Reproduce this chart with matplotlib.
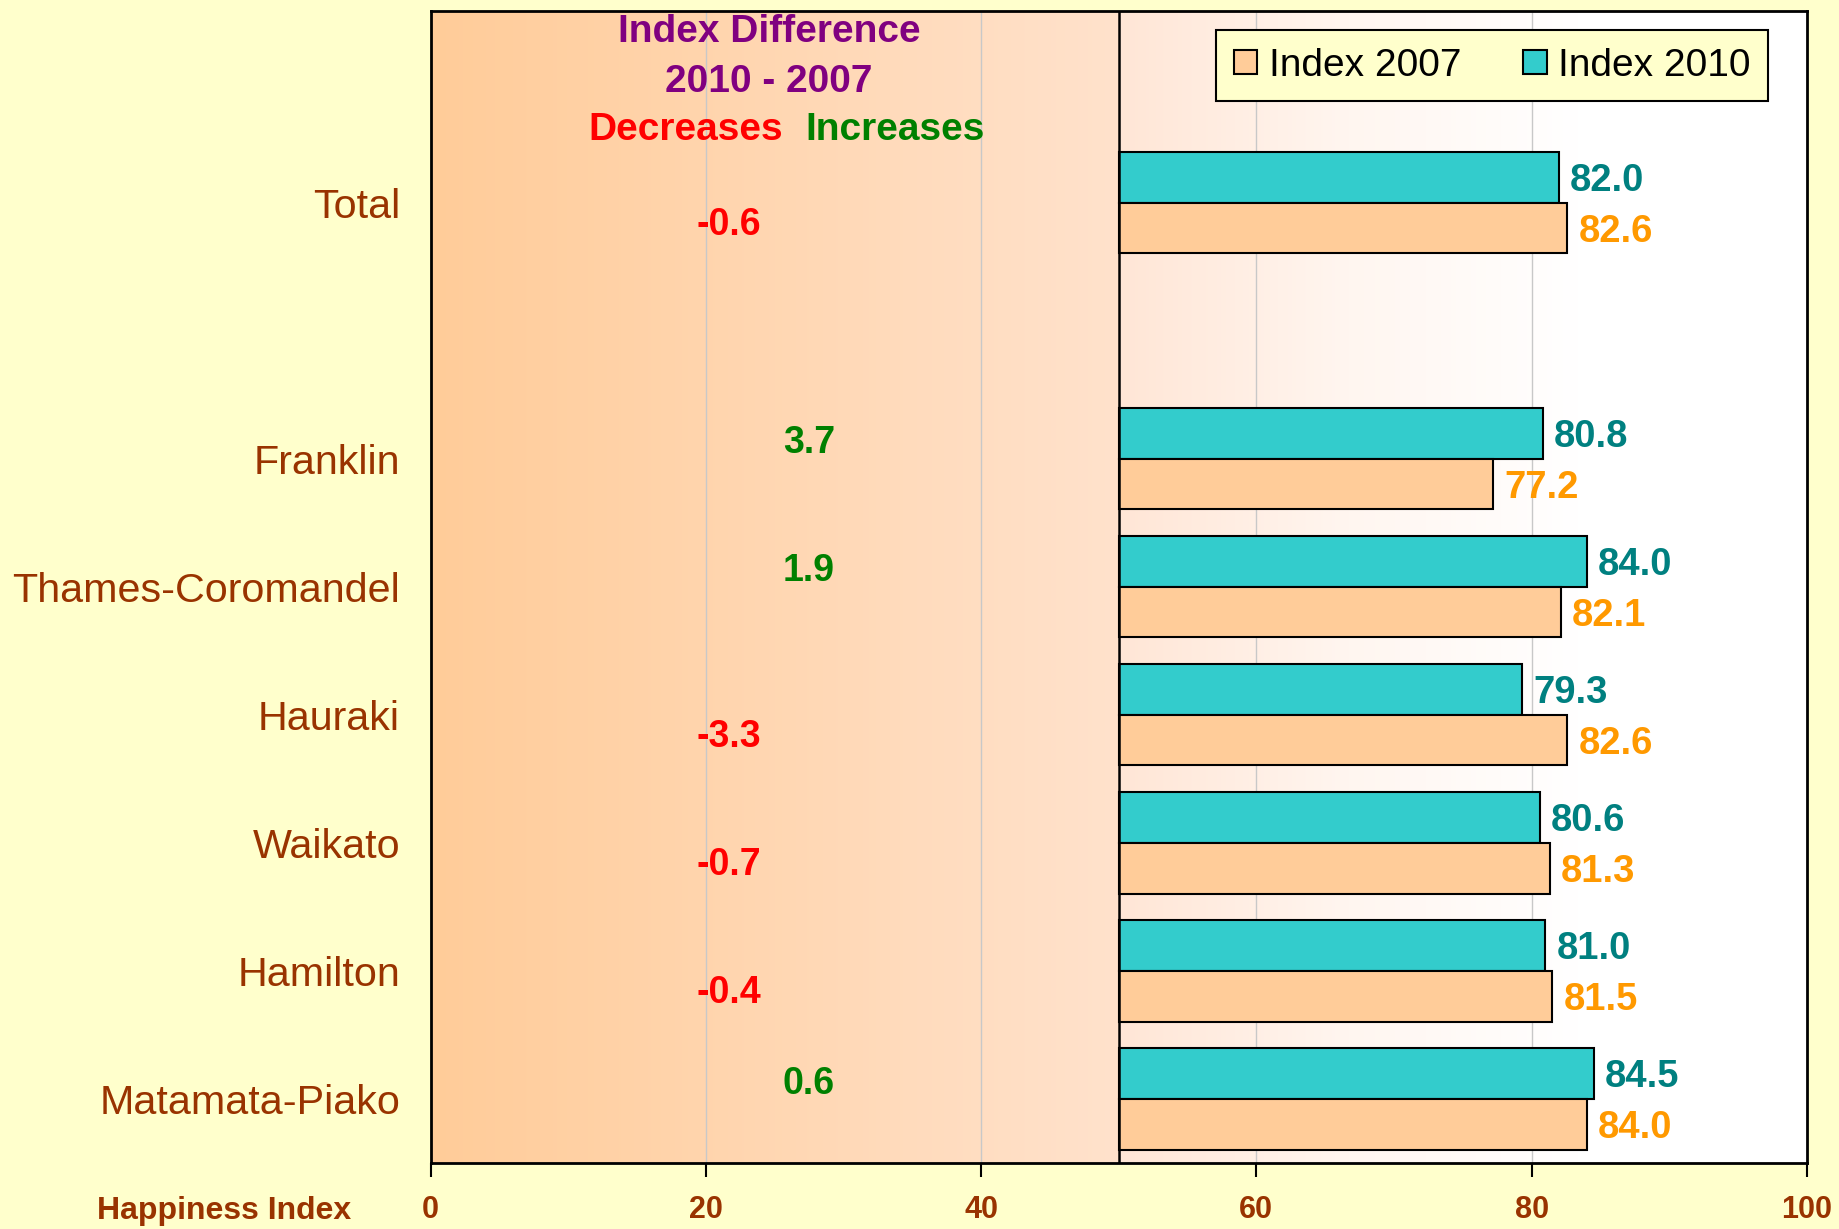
import numpy as np
import matplotlib
matplotlib.use("Agg")
import matplotlib.pyplot as plt
from matplotlib.patches import Patch
from matplotlib.colors import LinearSegmentedColormap

categories = ['Total', 'Franklin', 'Thames-Coromandel', 'Hauraki', 'Waikato', 'Hamilton', 'Matamata-Piako']
idx2007 = [82.6, 77.2, 82.1, 82.6, 81.3, 81.5, 84.0]
idx2010 = [82.0, 80.8, 84.0, 79.3, 80.6, 81.0, 84.5]
diff = [-0.6, 3.7, 1.9, -3.3, -0.7, -0.4, 0.6]
xticks = [0, 20, 40, 60, 80, 100]

ypos = [7, 5, 4, 3, 2, 1, 0]

NARROW = ['Liberation Sans', 'DejaVu Sans']
REG = ['Liberation Sans', 'DejaVu Sans']
BROWN = '#993300'
BG = '#FFFFCC'

fig = plt.figure(figsize=(18.4, 12.29), dpi=100, facecolor=BG)
ax = fig.add_axes([0.234, 0.0537, 0.748, 0.9377])
ax.set_facecolor('white')

# backgrounds
cm_left = LinearSegmentedColormap.from_list('l', ['#FFCC99', '#FFE2CC'])
cm_right = LinearSegmentedColormap.from_list('r', ['#FFE6D6', '#FFF6F0', '#FFFFFF', '#FFFFFF'])
grad = np.linspace(0, 1, 256).reshape(1, -1)
ax.imshow(grad, cmap=cm_left, aspect='auto', extent=(0, 50, -0.5, 8.5), zorder=0)
ax.imshow(grad, cmap=cm_right, aspect='auto', extent=(50, 100, -0.5, 8.5), zorder=0)

for g in [20, 40, 60, 80]:
    ax.axvline(g, color='#C8C8C8', lw=1.0, zorder=1)
ax.axvline(50, color='black', lw=1.8, zorder=3)

h = 0.395
off = 0.198
y = np.array(ypos, dtype=float)
ax.barh(y + off, [v - 50 for v in idx2010], left=50, height=h, color='#33CCCC',
        edgecolor='black', lw=1.5, zorder=2)
ax.barh(y - off, [v - 50 for v in idx2007], left=50, height=h, color='#FFCC99',
        edgecolor='black', lw=1.5, zorder=2)

for yy, v in zip(y, idx2010):
    ax.text(v + 0.8, yy + off - 0.028, f'{v:.1f}', color='#008080', fontsize=27.5, fontweight='bold',
            family=NARROW, va='center', ha='left', zorder=4)
for yy, v in zip(y, idx2007):
    ax.text(v + 0.8, yy - off - 0.028, f'{v:.1f}', color='#FF9900', fontsize=27.5, fontweight='bold',
            family=NARROW, va='center', ha='left', zorder=4)

for yy, d in zip(y, diff):
    if d < 0:
        ax.text(21.7, yy - 0.175, f'{d:.1f}', color='#FF0000', fontsize=27, fontweight='bold',
                family=NARROW, va='center', ha='center', zorder=4)
    else:
        ax.text(27.5, yy + 0.12, f'{d:.1f}', color='#008000', fontsize=27, fontweight='bold',
                family=NARROW, va='center', ha='center', zorder=4)

ax.text(24.6, 8.33, 'Index Difference', color='#800080', fontsize=28, fontweight='bold',
        family=NARROW, ha='center', va='center', zorder=4)
ax.text(24.6, 7.945, '2010 - 2007', color='#800080', fontsize=28, fontweight='bold',
        family=NARROW, ha='center', va='center', zorder=4)
ax.text(25.6, 7.57, 'Decreases', color='#FF0000', fontsize=28, fontweight='bold',
        family=NARROW, ha='right', va='center', zorder=4)
ax.text(27.2, 7.57, 'Increases', color='#008000', fontsize=28, fontweight='bold',
        family=NARROW, ha='left', va='center', zorder=4)

ax.set_xlim(0, 100)
ax.set_ylim(-0.5, 8.5)
ax.set_yticks(ypos)
ax.set_yticklabels(categories, fontsize=29.7, color=BROWN, family=REG)
ax.tick_params(axis='y', length=0, pad=22)
ax.set_xticks(xticks)
ax.set_xticklabels([str(t) for t in xticks], fontsize=22, color=BROWN, fontweight='bold', family=NARROW)
ax.tick_params(axis='x', direction='out', length=10, width=1.5, pad=13)
for s in ax.spines.values():
    s.set_linewidth(2)
    s.set_color('black')

fig.text(0.1906, 0.0146, 'Happiness Index', color=BROWN, fontsize=23, fontweight='bold',
         family=NARROW, ha='right', va='center')

handles = [Patch(facecolor='#FFCC99', edgecolor='black', lw=1.5, label='Index 2007'),
           Patch(facecolor='#33CCCC', edgecolor='black', lw=1.5, label='Index 2010')]
leg = ax.legend(handles=handles, loc='upper right', bbox_to_anchor=(0.972, 0.983), ncol=2,
                frameon=True, fancybox=False, facecolor=BG, edgecolor='black', framealpha=1,
                prop={'family': REG, 'size': 28}, handlelength=0.6, handleheight=0.6,
                handletextpad=0.3, columnspacing=1.6, borderpad=0.45, borderaxespad=0)
leg.get_frame().set_linewidth(1.5)
leg.set_zorder(5)

fig.savefig('out.png', dpi=100, facecolor=BG)
